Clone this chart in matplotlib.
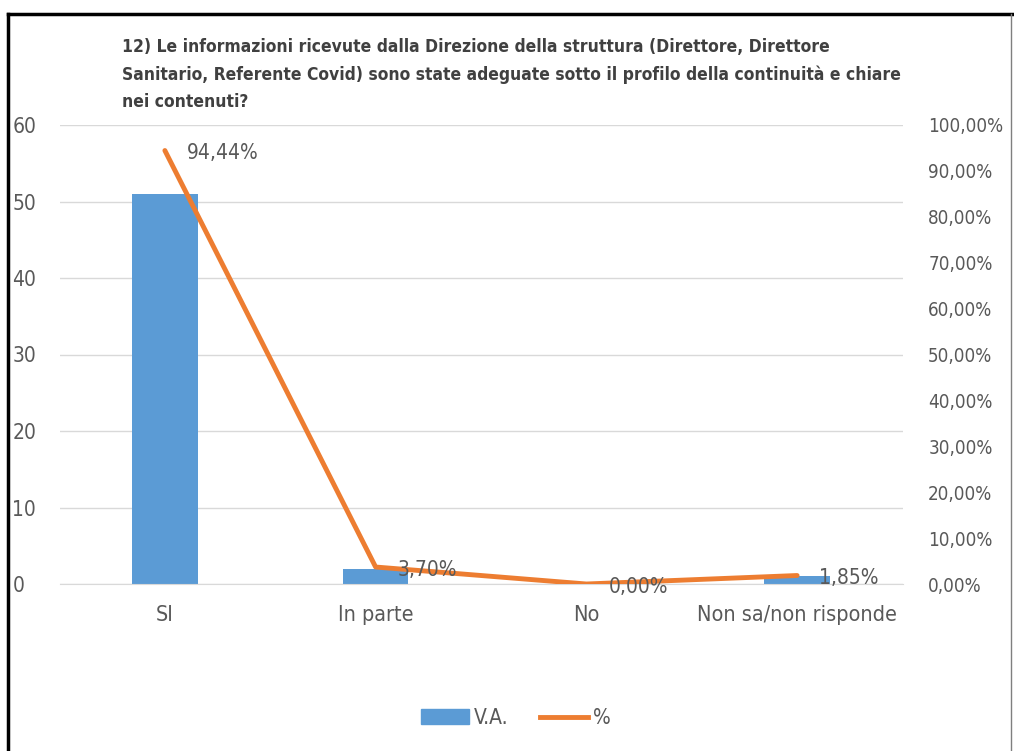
import matplotlib.pyplot as plt
from matplotlib.lines import Line2D
from matplotlib.ticker import FixedLocator, FuncFormatter

categories = ["SI", "In parte", "No", "Non sa/non risponde"]
va_values = [51, 2, 0, 1]
pct_values = [94.44, 3.70, 0.00, 1.85]
title = ("12) Le informazioni ricevute dalla Direzione della struttura (Direttore, Direttore\n"
         "Sanitario, Referente Covid) sono state adeguate sotto il profilo della continuità e chiare\n"
         "nei contenuti?")

plt.rcParams['font.family'] = ['DejaVu Sans']
plt.rcParams['font.stretch'] = 'condensed'

W, H = 1014, 751
fig = plt.figure(figsize=(W / 100, H / 100), dpi=100)
ax = fig.add_axes((59.5 / W, 167 / H, 843 / W, 459 / H))

gray = '#595959'
blue = '#5B9BD5'
orange = '#ED7D31'
fs = 15

x = list(range(len(categories)))
ax.bar(x, va_values, 0.31, color=blue, zorder=2, label='V.A.')
ax.set_xlim(-0.5, len(categories) - 0.5)
ax.set_ylim(0, 60)
ax.set_yticks(range(0, 61, 10))
ax.grid(axis='y', color='#d9d9d9', linewidth=1, zorder=0)
for s in ['top', 'right', 'left']:
    ax.spines[s].set_visible(False)
ax.spines['bottom'].set_color('#d9d9d9')
ax.set_xticks(x)
ax.set_xticklabels(categories)
ax.tick_params(axis='both', length=0, colors=gray, labelsize=fs)
ax.tick_params(axis='x', pad=15, labelsize=15.5)
ax.tick_params(axis='y', pad=34)
for lab in ax.get_yticklabels():
    lab.set_horizontalalignment('left')

ax2 = ax.twinx()
ax2.plot(x, pct_values, color=orange, linewidth=3.5, solid_capstyle='round', zorder=3, label='%')
ax2.set_ylim(0, 100)
ax2.yaxis.set_major_locator(FixedLocator(range(0, 101, 10)))
ax2.yaxis.set_major_formatter(FuncFormatter(lambda v, p: f"{v:.2f}%".replace('.', ',')))
ax2.tick_params(axis='y', length=0, colors=gray, labelsize=13.5, pad=18.5)
for s in ax2.spines.values():
    s.set_visible(False)

for xi, v in zip(x, pct_values):
    ax2.annotate(f"{v:.2f}%".replace('.', ','), (xi, v), xytext=(16, -2),
                 textcoords='offset points', ha='left', va='center',
                 color=gray, fontsize=fs)

fig.text(122 / W, 1 - 38 / H, title, ha='left', va='top', fontsize=12.5,
         fontweight='bold', color='#404040', linespacing=1.65)

handles = [plt.Rectangle((0, 0), 1, 1, color=blue),
           Line2D([0], [0], color=orange, linewidth=3.5)]
fig.legend(handles, ['V.A.', '%'], loc='center', bbox_to_anchor=(516 / W, 1 - 718 / H),
           ncol=2, frameon=False, fontsize=fs, labelcolor=gray,
           handlelength=2.3, handleheight=0.7, columnspacing=1.5, handletextpad=0.25)

# chart border
fig.add_artist(Line2D([8 / W, 1], [1 - 14 / H, 1 - 14 / H], color='black', linewidth=2.5,
                      transform=fig.transFigure))
fig.add_artist(Line2D([8 / W, 8 / W], [0, 1 - 14 / H], color='black', linewidth=2.5,
                      transform=fig.transFigure))
fig.add_artist(Line2D([1011 / W, 1011 / W], [0, 1 - 14 / H], color='#7f7f7f', linewidth=1,
                      transform=fig.transFigure))

fig.savefig('out.png', dpi=100)
